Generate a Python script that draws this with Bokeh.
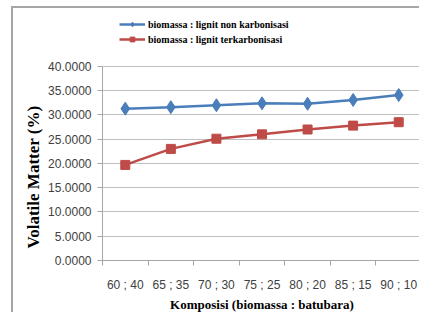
import numpy as np
from bokeh.plotting import figure
from bokeh.models import Range1d, FixedTicker, Legend, LegendItem, NumeralTickFormatter, Title
from bokeh.embed import file_html
from bokeh.resources import INLINE

categories = ["60 ; 40", "65 ; 35", "70 ; 30", "75 ; 25", "80 ; 20", "85 ; 15", "90 ; 10"]
non_karbonisasi = [31.3, 31.6, 32.0, 32.4, 32.3, 33.1, 34.1]
terkarbonisasi = [19.7, 23.0, 25.1, 26.0, 27.0, 27.8, 28.5]
y_ticks = [0, 5, 10, 15, 20, 25, 30, 35, 40]
series_names = ["biomassa : lignit non karbonisasi", "biomassa : lignit terkarbonisasi"]

x = np.arange(len(categories)) + 0.5
y_top = 50.7  # extra room above 40 holds the legend

p = figure(width=408, height=306, output_backend="svg", toolbar_location=None,
           x_range=Range1d(0, len(categories)), y_range=Range1d(0, y_top),
           min_border_left=89, min_border_right=0, min_border_top=6, min_border_bottom=54)
p.styles = {"border-left": "2px solid #a6a6a6", "border-top": "2px solid #a6a6a6",
            "margin-left": "11px", "margin-top": "6px"}
p.outline_line_color = None
p.background_fill_color = "white"

# y axis
p.yaxis.ticker = FixedTicker(ticks=y_ticks)
p.yaxis.bounds = (0, 40)
p.yaxis.formatter = NumeralTickFormatter(format="0.0000")
p.yaxis.major_label_text_font = "Liberation Sans"
p.yaxis.major_label_text_font_size = "12px"
p.yaxis.major_label_text_color = "#404040"
p.yaxis.axis_line_color = "#a6a6a6"
p.yaxis.major_tick_line_color = "#a6a6a6"
p.yaxis.major_tick_out = 5
p.yaxis.major_tick_in = 0
p.yaxis.minor_tick_line_color = None
p.yaxis.major_label_standoff = 6

ytitle = Title(text="Volatile Matter (%)", align="left", offset=12, standoff=5,
               text_font="Liberation Serif", text_font_style="bold",
               text_font_size="17px", text_color="black")
p.add_layout(ytitle, "left")

# x axis
p.xaxis.ticker = FixedTicker(ticks=list(x), minor_ticks=list(range(len(categories) + 1)))
p.xaxis.major_label_overrides = {float(v): c for v, c in zip(x, categories)}
p.xaxis.major_label_text_font = "Liberation Sans"
p.xaxis.major_label_text_font_size = "12px"
p.xaxis.major_label_text_color = "#404040"
p.xaxis.axis_line_color = "#a6a6a6"
p.xaxis.major_tick_line_color = None
p.xaxis.major_tick_out = 0
p.xaxis.major_tick_in = 0
p.xaxis.minor_tick_line_color = "#a6a6a6"
p.xaxis.minor_tick_out = 5
p.xaxis.minor_tick_in = 0
p.xaxis.major_label_standoff = 12
p.xaxis.axis_label = "Komposisi (biomassa : batubara)"
p.xaxis.axis_label_text_font = "Liberation Serif"
p.xaxis.axis_label_text_font_style = "bold"
p.xaxis.axis_label_text_font_size = "13px"
p.xaxis.axis_label_text_color = "black"
p.xaxis.axis_label_standoff = 2

p.xgrid.grid_line_color = None
p.ygrid.ticker = FixedTicker(ticks=y_ticks)
p.ygrid.grid_line_color = "#bfbfbf"
p.ygrid.grid_line_width = 1

blue = "#4a7ebb"
red = "#be4b48"
l1 = p.line(x, non_karbonisasi, line_color=blue, line_width=2.5)
s1 = p.scatter(x, non_karbonisasi, marker="diamond", size=13, fill_color=blue, line_color=blue)
l2 = p.line(x, terkarbonisasi, line_color=red, line_width=2.5)
s2 = p.scatter(x, terkarbonisasi, marker="square", size=9, fill_color=red, line_color=red)

legend = Legend(items=[LegendItem(label=series_names[0], renderers=[l1, s1]),
                       LegendItem(label=series_names[1], renderers=[l2, s2])],
                location=(17, 215), orientation="vertical")
legend.border_line_color = None
legend.background_fill_alpha = 0
legend.padding = 0
legend.margin = 0
legend.spacing = 3
legend.glyph_width = 26
legend.glyph_height = 12
legend.label_height = 12
legend.label_standoff = 3
legend.label_text_font = "Liberation Serif"
legend.label_text_font_style = "bold"
legend.label_text_font_size = "10px"
legend.label_text_color = "black"
p.add_layout(legend, "center")

open("out.html", "w").write(file_html(p, INLINE))
